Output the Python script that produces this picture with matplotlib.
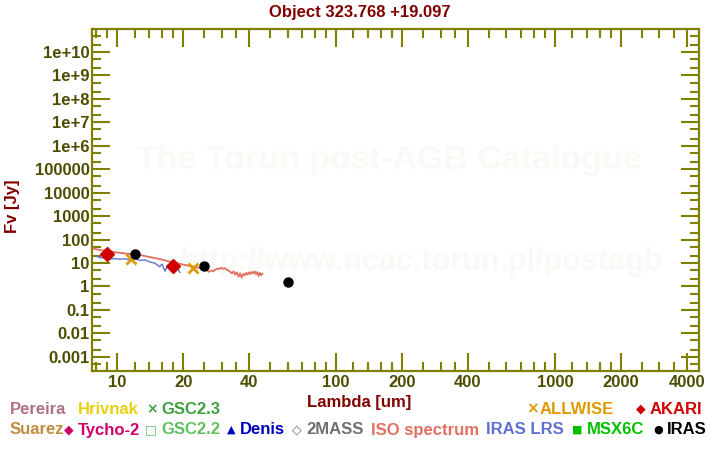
import matplotlib
matplotlib.use("Agg")
import matplotlib.pyplot as plt
from matplotlib.ticker import FixedLocator, NullFormatter, FixedFormatter

# ---------------- data ----------------
iso_wl = [7.7, 8.3, 9.0, 10.0, 11.0, 12.0, 13.0, 14.0, 15.0, 16.0, 17.0, 18.0, 19.0, 20.0,
          21.0, 22.0, 23.0, 24.0, 25.0, 25.6, 26.2, 26.8, 27.4, 28.0, 28.6, 29.2, 29.8,
          30.4, 31.0, 31.6, 32.2, 32.8, 33.4, 34.0, 34.6, 35.2, 35.8, 36.4, 37.0, 37.6,
          38.2, 38.8, 39.4, 40.0, 40.6, 41.2, 41.8, 42.4, 43.0, 43.6, 44.2, 44.8, 45.4, 46.0]
iso_flux = [42, 36, 32, 28, 25, 24, 21, 18, 16, 14, 12, 10.5, 9.5, 8.5,
            7.8, 7.2, 6.5, 6.0, 5.5, 5.0, 4.2, 4.8, 4.4, 5.2, 5.8, 5.5, 6.3,
            5.6, 6.0, 5.2, 4.8, 4.2, 3.6, 4.4, 3.2, 4.0, 2.6, 3.6, 2.4, 3.4,
            3.0, 3.8, 3.2, 4.0, 3.4, 4.2, 3.6, 4.4, 3.3, 4.1, 2.8, 3.8, 3.0, 3.5]

lrs_wl = [7.97, 8.3, 8.8, 9.2, 9.7, 10.3, 10.8, 11.4, 12.0, 12.7, 13.4, 14.1, 14.8,
          15.6, 16.0, 16.5, 17.0, 17.4, 18.3, 18.8, 19.3]
lrs_flux = [20, 17, 16.5, 15, 15.5, 14.5, 15, 14, 15, 13, 13.5, 11, 10,
            7, 9, 4.5, 8, 6, 7.5, 6, 4]

akari_wl = [9.0, 18.0]
akari_flux = [24, 7.2]
iras_wl = [12.0, 25.0, 60.0]
iras_flux = [24, 7.7, 1.5]
allwise_wl = [11.6, 22.1]
allwise_flux = [14.5, 6.0]

xticks = [10, 20, 40, 100, 200, 400, 1000, 2000, 4000]
xtick_labels = ["10", "20", "40", "100", "200", "400", "1000", "2000", "4000"]
xminor = [8, 9, 12, 14, 16, 18, 25, 30, 35, 50, 60, 70, 80, 90, 120, 140, 160, 180,
          250, 300, 350, 500, 600, 700, 800, 900, 1200, 1400, 1600, 1800, 2500, 3000, 3500]
yexp = list(range(-3, 11))
ytick_labels = ["0.001", "0.01", "0.1", "1", "10", "100", "1000", "10000", "100000",
                "1e+6", "1e+7", "1e+8", "1e+9", "1e+10"]

# ---------------- style ----------------
W, H = 720, 450
AX = "#808000"
TL = "#4d4d00"
DR = "#800000"
FONT = "Liberation Sans"

fig = plt.figure(figsize=(7.2, 4.5), dpi=100)
L, R, T, B = 92.3, 699.3, 29.3, 371.3
ax = fig.add_axes([L / W, 1 - B / H, (R - L) / W, (B - T) / H])
ax.set_xscale("log")
ax.set_yscale("log")
ax.set_xlim(7.68, 4570)
ax.set_ylim(10 ** -3.62, 10 ** 10.97)

# watermark
ax.text(0.489, 0.615, "The Torun post-AGB Catalogue", transform=ax.transAxes,
        ha="center", va="center", fontsize=24.5, fontweight="bold", color="#fbf9f5",
        family=FONT, zorder=0)
ax.text(0.544, 0.32, "http://www.ncac.torun.pl/postagb", transform=ax.transAxes,
        ha="center", va="center", fontsize=22, fontweight="bold", color="#fbf9f5",
        family=FONT, zorder=0)

ax.plot(iso_wl, iso_flux, color="#e07060", lw=1.3, zorder=3)
ax.plot(lrs_wl, lrs_flux, color="#6070d0", lw=1.0, zorder=3)
ax.plot(allwise_wl, allwise_flux, "x", color="#e09a00", ms=7, mew=2, zorder=4)
ax.plot(akari_wl, akari_flux, "D", color="#d00000", ms=7, zorder=5)
ax.plot(iras_wl, iras_flux, "o", color="black", ms=6.5, zorder=5)

for s in ax.spines.values():
    s.set_color(AX)
    s.set_linewidth(1.6)

ax.xaxis.set_major_locator(FixedLocator(xticks))
ax.xaxis.set_major_formatter(FixedFormatter(xtick_labels))
ax.xaxis.set_minor_locator(FixedLocator(xminor))
ax.xaxis.set_minor_formatter(NullFormatter())
ax.yaxis.set_major_locator(FixedLocator([10.0 ** e for e in yexp]))
ax.yaxis.set_major_formatter(FixedFormatter(ytick_labels))
ax.yaxis.set_minor_locator(FixedLocator([m * 10.0 ** e for e in range(-4, 11) for m in (2, 5)]))
ax.yaxis.set_minor_formatter(NullFormatter())

ax.tick_params(which="both", direction="in", top=True, right=True, color=AX, width=1.5)
ax.tick_params(which="major", length=13)
ax.tick_params(which="minor", length=6.5)
ax.tick_params(axis="y", which="major", labelsize=12, labelcolor=TL, pad=2)
ax.tick_params(axis="x", which="major", labelsize=12, labelcolor=TL, pad=3)
for lab in ax.get_xticklabels() + ax.get_yticklabels():
    lab.set_fontweight("bold")
    lab.set_family(FONT)

def ftext(x, y, s, color, size=12, ha="left", family=FONT, **kw):
    fig.text(x / W, 1 - y / H, s, color=color, fontsize=size, fontweight="bold",
             ha=ha, va="center", family=family, **kw)

ftext(360, 12, "Object 323.768 +19.097", DR, size=12, ha="center")
ftext(359, 403, "Lambda [um]", DR, size=12, ha="center")
fig.text(12 / W, 1 - 206 / H, "Fv [Jy]", color=DR, fontsize=12, fontweight="bold",
         rotation=90, ha="center", va="center", family=FONT)

SYM = "DejaVu Sans"
# legend row 1
ftext(10, 409, "Pereira", "#b07088")
ftext(77.5, 409, "Hrivnak", "#e8d010")
ftext(146, 409, "×", "#40a040", size=10, family=SYM)
ftext(161, 409, "GSC2.3", "#40a040")
ftext(526, 409, "×", "#e09a00", size=11, family=SYM)
ftext(540, 409, "ALLWISE", "#e09a00")
ftext(636, 409, "◆", "#d00000", size=9, family=SYM)
ftext(650, 409, "AKARI", "#d00000")
# legend row 2
ftext(10, 430, "Suarez", "#c08c40")
ftext(64, 430, "◆", "#d0006a", size=9, family=SYM)
ftext(77.5, 430, "Tycho-2", "#d0006a")
ftext(145, 430, "□", "#60c060", size=9, family=SYM)
ftext(161, 430, "GSC2.2", "#60c060")
ftext(227, 430, "▲", "#0000c0", size=8, family=SYM)
ftext(240, 430, "Denis", "#0000c0")
ftext(292, 430, "◇", "#707070", size=9, family=SYM)
ftext(306, 430, "2MASS", "#707070")
ftext(371, 430, "ISO spectrum", "#e07060")
ftext(486, 430, "IRAS LRS", "#6070d0")
ftext(572, 430, "■", "#00c000", size=8, family=SYM)
ftext(587, 430, "MSX6C", "#00c000")
ftext(653, 430, "●", "black", size=8, family=SYM)
ftext(667, 430, "IRAS", "black")

fig.savefig("out.png", dpi=100, facecolor="white")
